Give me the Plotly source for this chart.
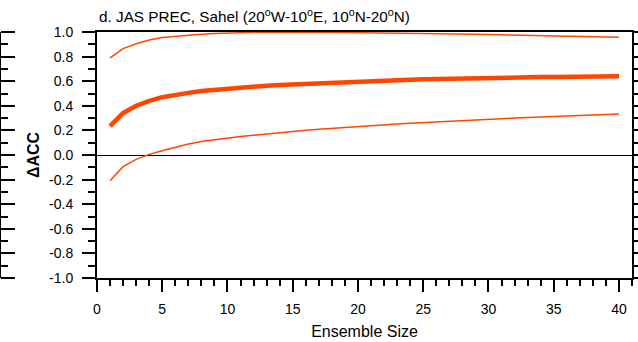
import plotly.graph_objects as go

ensemble_size = list(range(1, 41))
acc_mean = [0.235, 0.34, 0.40, 0.44, 0.47, 0.49, 0.505, 0.52, 0.53, 0.54,
            0.548, 0.556, 0.563, 0.57, 0.575, 0.58, 0.585, 0.59, 0.595, 0.60,
            0.603, 0.606, 0.609, 0.612, 0.615, 0.618, 0.62, 0.622, 0.625, 0.627,
            0.629, 0.631, 0.633, 0.634, 0.635, 0.637, 0.638, 0.639, 0.64, 0.641]
acc_upper = [0.79, 0.865, 0.905, 0.935, 0.955, 0.965, 0.975, 0.982, 0.988, 0.992,
             0.995, 0.997, 0.998, 0.999, 0.999, 0.999, 0.998, 0.997, 0.996, 0.995,
             0.994, 0.993, 0.992, 0.99, 0.989, 0.987, 0.985, 0.983, 0.981, 0.979,
             0.977, 0.975, 0.973, 0.971, 0.969, 0.967, 0.965, 0.962, 0.96, 0.957]
acc_lower = [-0.21, -0.095, -0.035, 0.005, 0.035, 0.065, 0.09, 0.11, 0.125, 0.14,
             0.15, 0.16, 0.172, 0.183, 0.193, 0.202, 0.21, 0.218, 0.225, 0.232,
             0.24, 0.247, 0.253, 0.259, 0.265, 0.27, 0.275, 0.28, 0.285, 0.29,
             0.295, 0.3, 0.305, 0.309, 0.313, 0.317, 0.321, 0.325, 0.329, 0.333]

y_ticks = [1.0, 0.8, 0.6, 0.4, 0.2, 0.0, -0.2, -0.4, -0.6, -0.8, -1.0]
y_ticklabels = ["1.0", "0.8", "0.6", "0.4", "0.2", "0.0", "-0.2", "-0.4", "-0.6", "-0.8", "-1.0"]
y_minor = [0.9, 0.7, 0.5, 0.3, 0.1, -0.1, -0.3, -0.5, -0.7, -0.9]
x_ticks = [0, 5, 10, 15, 20, 25, 30, 35, 40]

title_text = "d. JAS PREC, Sahel (20<sup>o</sup>W-10<sup>o</sup>E, 10<sup>o</sup>N-20<sup>o</sup>N)"

W, H = 638, 342
color = "#FF4500"
font = "Liberation Sans, Arial, Helvetica, sans-serif"

fig = go.Figure()
fig.add_trace(go.Scatter(x=ensemble_size, y=acc_upper, mode="lines",
                         line=dict(color=color, width=1.5), showlegend=False))
fig.add_trace(go.Scatter(x=ensemble_size, y=acc_lower, mode="lines",
                         line=dict(color=color, width=1.5), showlegend=False))
fig.add_trace(go.Scatter(x=ensemble_size, y=acc_mean, mode="lines",
                         line=dict(color=color, width=4.5), showlegend=False))
# invisible trace for the neighbouring panel's axis
fig.add_trace(go.Scatter(x=[None], y=[None], yaxis="y2", showlegend=False,
                         hoverinfo="skip"))

fig.update_layout(
    width=W, height=H,
    margin=dict(l=0, r=0, t=0, b=0, autoexpand=False),
    paper_bgcolor="white", plot_bgcolor="white",
    font=dict(family=font, color="black", size=14),
    xaxis=dict(
        domain=[97 / W, 632 / W], range=[0, 41], automargin=False,
        tickvals=x_ticks, ticks="outside", ticklen=12, tickwidth=2, tickcolor="black",
        minor=dict(dtick=1, ticks="outside", ticklen=6, tickwidth=1.5, tickcolor="black"),
        showline=True, linewidth=2, linecolor="black", mirror=True,
        showgrid=False, zeroline=False,
        tickfont=dict(size=14), ticklabelstandoff=5,
        title=dict(text="Ensemble Size", font=dict(size=16), standoff=10),
    ),
    yaxis=dict(
        domain=[64 / H, 310 / H], range=[-1.0, 1.0], automargin=False,
        tickvals=y_ticks, ticktext=y_ticklabels,
        ticks="outside", ticklen=13, tickwidth=2, tickcolor="black",
        minor=dict(tickvals=y_minor, ticks="outside", ticklen=7, tickwidth=1.5,
                   tickcolor="black"),
        showline=True, linewidth=2, linecolor="black", mirror="ticks",
        showgrid=False, zeroline=True, zerolinecolor="black", zerolinewidth=1,
        tickfont=dict(size=14), ticklabelstandoff=6,
    ),
    yaxis2=dict(
        overlaying="y", anchor="free", position=0, side="right", automargin=False,
        range=[-1.0, 1.0], tickvals=y_ticks, showticklabels=False,
        ticks="outside", ticklen=14, tickwidth=2, tickcolor="black",
        minor=dict(tickvals=y_minor, ticks="outside", ticklen=7, tickwidth=1.5,
                   tickcolor="black"),
        showline=True, linewidth=2, linecolor="black",
        showgrid=False, zeroline=False,
    ),
    annotations=[
        dict(text=title_text, x=97 / W, y=1 - 15 / H, xref="paper", yref="paper",
             xanchor="left", yanchor="middle", showarrow=False,
             font=dict(size=15.3)),
        dict(text="<b>\u0394ACC</b>", x=33 / W, y=1 - 155 / H, xref="paper", yref="paper",
             xanchor="center", yanchor="middle", showarrow=False, textangle=-90,
             font=dict(size=16)),
    ],
)

fig.write_html("out.html", config={"displayModeBar": False},
               post_script="document.body.style.margin='0';document.body.style.overflow='hidden';")
